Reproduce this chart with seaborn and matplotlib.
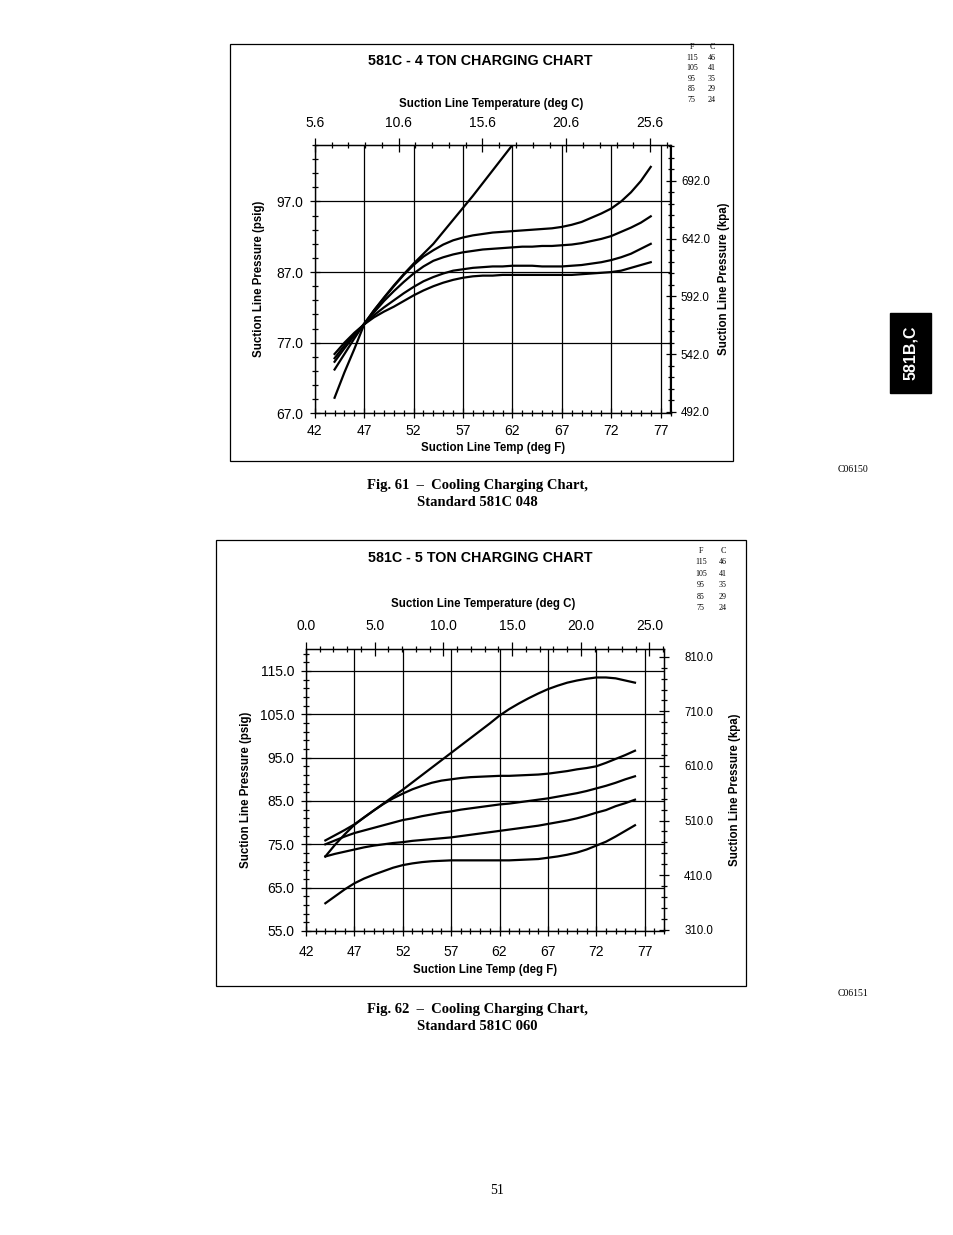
import numpy as np
import pandas as pd
import matplotlib
matplotlib.use("Agg")
import matplotlib.pyplot as plt
import seaborn as sns
from matplotlib.patches import Rectangle
from matplotlib.ticker import FixedLocator

plt.rcParams["font.family"] = ["Liberation Sans", "DejaVu Sans"]

W, H = 954, 1235

# outdoor temperature key (F / C)
outdoor_f = [115, 105, 95, 85, 75]
outdoor_c = [46, 41, 35, 29, 24]

# ---- 581C 048 (4 ton): suction line temp (F) -> suction pressure (psig)
t4_115 = [44, 44.5, 45, 46, 47, 48, 49, 50, 51, 52, 53, 54, 55, 56, 57, 58, 59, 60, 61, 62]
p4_115 = [69.2, 71.0, 72.8, 76.1, 79.6, 81.6, 83.4, 85.1, 86.7, 88.2, 89.6, 91.0, 92.7,
          94.4, 96.1, 97.8, 99.6, 101.4, 103.2, 105.0]
t4 = list(range(44, 77))
p4_105 = [73.2, 75.4, 77.6, 79.7, 81.6, 83.3, 85.0, 86.6, 88.0, 89.2, 90.1, 90.9, 91.5,
          91.9, 92.2, 92.4, 92.6, 92.7, 92.8, 92.9, 93.0, 93.1, 93.2, 93.4, 93.7, 94.1,
          94.7, 95.3, 96.0, 97.0, 98.3, 99.9, 101.9]
p4_95 = [74.3, 76.2, 78.0, 79.7, 81.3, 82.9, 84.3, 85.6, 86.8, 87.8, 88.6, 89.1, 89.5,
         89.8, 90.0, 90.2, 90.3, 90.4, 90.5, 90.6, 90.6, 90.7, 90.7, 90.8, 90.9, 91.1,
         91.4, 91.7, 92.1, 92.7, 93.3, 94.0, 94.9]
p4_85 = [74.8, 76.6, 78.2, 79.6, 80.9, 82.0, 83.0, 84.0, 84.9, 85.7, 86.3, 86.8, 87.2,
         87.4, 87.6, 87.7, 87.8, 87.8, 87.9, 87.9, 87.9, 87.8, 87.8, 87.8, 87.9, 88.0,
         88.2, 88.4, 88.7, 89.1, 89.6, 90.3, 91.0]
p4_75 = [75.4, 77.0, 78.4, 79.6, 80.6, 81.4, 82.1, 82.9, 83.7, 84.4, 85.0, 85.5, 85.9,
         86.2, 86.4, 86.5, 86.5, 86.6, 86.6, 86.6, 86.6, 86.6, 86.6, 86.6, 86.6, 86.7,
         86.8, 86.9, 87.0, 87.2, 87.6, 88.0, 88.4]

# ---- 581C 060 (5 ton)
t5 = list(range(44, 77))
p5_115 = [72.2, 74.9, 77.3, 79.5, 81.2, 82.8, 84.4, 86.0, 87.6, 89.3, 91.0, 92.7, 94.4,
          96.1, 97.8, 99.5, 101.2, 102.9, 104.7, 106.2, 107.5, 108.7, 109.8, 110.8,
          111.6, 112.3, 112.8, 113.2, 113.5, 113.5, 113.3, 112.8, 112.3]
p5_105 = [75.9, 77.1, 78.3, 79.6, 81.2, 82.8, 84.3, 85.6, 86.7, 87.7, 88.5, 89.2, 89.7,
          90.0, 90.3, 90.5, 90.6, 90.7, 90.8, 90.8, 90.9, 91.0, 91.1, 91.3, 91.6, 91.9,
          92.3, 92.6, 93.0, 93.8, 94.7, 95.6, 96.6]
p5_95 = [75.0, 75.9, 76.8, 77.6, 78.2, 78.8, 79.4, 80.0, 80.6, 81.0, 81.5, 81.9, 82.3,
         82.6, 83.0, 83.3, 83.6, 83.9, 84.2, 84.4, 84.7, 85.0, 85.3, 85.6, 86.0, 86.4,
         86.8, 87.3, 87.9, 88.5, 89.2, 90.0, 90.7]
p5_85 = [72.2, 72.8, 73.3, 73.8, 74.3, 74.7, 75.0, 75.3, 75.5, 75.8, 76.0, 76.2, 76.4,
         76.6, 76.9, 77.2, 77.5, 77.8, 78.1, 78.4, 78.7, 79.0, 79.3, 79.7, 80.1, 80.5,
         81.0, 81.6, 82.3, 82.9, 83.8, 84.5, 85.3]
p5_75 = [61.4, 63.0, 64.6, 66.0, 67.1, 68.0, 68.8, 69.6, 70.2, 70.6, 70.9, 71.1, 71.2,
         71.3, 71.3, 71.3, 71.3, 71.3, 71.3, 71.3, 71.4, 71.5, 71.6, 71.9, 72.2, 72.6,
         73.1, 73.8, 74.7, 75.6, 76.8, 78.1, 79.4]

fx_ticks = [42, 47, 52, 57, 62, 67, 72, 77]
y4_ticks = [67, 77, 87, 97]
y5_ticks = [55, 65, 75, 85, 95, 105, 115]
c4_ticks = [5.6, 10.6, 15.6, 20.6, 25.6]
c5_ticks = [0.0, 5.0, 10.0, 15.0, 20.0, 25.0]
kpa4_ticks = [492, 542, 592, 642, 692]
kpa5_ticks = [310, 410, 510, 610, 710, 810]


def long_df(pairs):
    rows = []
    for of, (t, p) in zip(outdoor_f, pairs):
        rows.append(pd.DataFrame({"temp_f": t, "psig": p, "outdoor": of}))
    return pd.concat(rows, ignore_index=True)


df4 = long_df([(t4_115, p4_115), (t4, p4_105), (t4, p4_95), (t4, p4_85), (t4, p4_75)])
df5 = long_df([(t5, p5_115), (t5, p5_105), (t5, p5_95), (t5, p5_85), (t5, p5_75)])

fig = plt.figure(figsize=(W / 100, H / 100), dpi=100)


def px_rect(l, t, r, b):
    return [l / W, 1 - b / H, (r - l) / W, (b - t) / H]


def ftext(x, y, s, **kw):
    fig.text(x / W, 1 - y / H, s, **kw)


def frame(l, t, r, b):
    fig.add_artist(Rectangle((l / W, 1 - b / H), (r - l) / W, (b - t) / H,
                             transform=fig.transFigure, fill=False, lw=0.9, color="black"))


def chart(rect, df, xlim, ylim, yticks, c_scale, c0, c_ticks, c_minor,
          kpa_scale, p0, kpa0, kpa_ticks, kpa_minor, pads, lab):
    ax = fig.add_axes(rect)
    sns.lineplot(data=df, x="temp_f", y="psig", units="outdoor", estimator=None,
                 color="black", linewidth=1.6, ax=ax)
    ax.set_xlim(*xlim)
    ax.set_ylim(*ylim)
    ax.set_xticks(fx_ticks)
    ax.set_xticklabels([str(v) for v in fx_ticks])
    ax.xaxis.set_minor_locator(FixedLocator(np.arange(xlim[0], xlim[1] + 0.1, 1)))
    ax.set_yticks(yticks)
    ax.set_yticklabels([f"{v:.1f}" for v in yticks])
    ax.yaxis.set_minor_locator(FixedLocator(np.arange(ylim[0], ylim[1] + 0.1, 2)))
    ax.grid(True, which="major", color="black", lw=0.9)
    for sp in ax.spines.values():
        sp.set_color("black")
        sp.set_linewidth(1.0)
    ax.tick_params(which="both", direction="inout", color="black", width=0.9, labelsize=10)
    ax.tick_params(which="major", length=7)
    ax.tick_params(which="minor", length=5)
    ax.tick_params(axis="x", pad=pads[0])
    ax.tick_params(axis="y", pad=pads[1])
    ax.set_xlabel("")
    ax.set_ylabel("")
    bold = dict(fontsize=8.3, fontweight="bold", transform=ax.transAxes,
                ha="center", va="center")
    ax.text(0.5, lab[0], "Suction Line Temp (deg F)", **bold)
    ax.text(lab[1], 0.5, "Suction Line Pressure (psig)", rotation=90, **bold)
    ax.text(0.495, lab[2], "Suction Line Temperature (deg C)", **bold)
    ax.text(lab[3], 0.5, "Suction Line Pressure (kpa)", rotation=90, **bold)

    top = ax.secondary_xaxis("top", functions=(lambda f: c0 + (f - xlim[0]) / c_scale,
                                               lambda c: xlim[0] + (c - c0) * c_scale))
    top.set_xticks(c_ticks)
    top.set_xticklabels([f"{v:.1f}" for v in c_ticks])
    top.xaxis.set_minor_locator(FixedLocator(c_minor))
    top.tick_params(which="both", direction="inout", width=0.9, labelsize=10, pad=pads[2])
    top.tick_params(which="major", length=10)
    top.tick_params(which="minor", length=5)

    right = ax.secondary_yaxis("right", functions=(lambda p: kpa0 + (p - p0) * kpa_scale,
                                                   lambda k: p0 + (k - kpa0) / kpa_scale))
    right.set_yticks(kpa_ticks)
    right.set_yticklabels([f"{v:.1f}" for v in kpa_ticks])
    right.yaxis.set_minor_locator(FixedLocator(kpa_minor))
    right.tick_params(which="both", direction="inout", width=0.9, labelsize=8.3, pad=pads[3])
    right.tick_params(which="major", length=7)
    right.tick_params(which="minor", length=5)
    for sp in list(top.spines.values()) + list(right.spines.values()):
        sp.set_color("black")
    return ax


# ---- Fig. 61
frame(230, 44, 733, 461)
chart(px_rect(314.8, 145, 670.5, 413.3), df4, (42, 78), (67, 105), y4_ticks,
      1.697, 5.6, c4_ticks, np.arange(5.6, 27, 1.0),
      6.11, 67.2, 492, kpa4_ticks, np.arange(492, 725, 10),
      pads=(4.5, 4.5, 5.5, 4.0), lab=(-0.128, -0.156, 1.153, 1.150))
ftext(480, 61, "581C - 4 TON CHARGING CHART", fontsize=10.3, fontweight="bold",
      ha="center", va="center")

# ---- Fig. 62
frame(216, 540, 746, 986)
chart(px_rect(306, 649.3, 664, 931), df5, (42, 79), (55, 120), y5_ticks,
      1.42, 0.0, c5_ticks, np.arange(0, 26.5, 1.0),
      7.94, 55.3, 310, kpa5_ticks, np.arange(310, 820, 20),
      pads=(6.5, 5.0, 7.0, 11.0), lab=(-0.138, -0.167, 1.160, 1.198))
ftext(480, 558, "581C - 5 TON CHARGING CHART", fontsize=10.3, fontweight="bold",
      ha="center", va="center")

# small outdoor temperature key
serif = ["Liberation Serif", "DejaVu Serif"]
for (xf, xc, y0, dy) in [(692, 712, 47, 10.6), (701, 723, 551, 11.4)]:
    ftext(xf, y0, "F", family=serif, fontsize=5.8, ha="center", va="center")
    ftext(xc, y0, "C", family=serif, fontsize=5.8, ha="center", va="center")
    for i, (vf, vc) in enumerate(zip(outdoor_f, outdoor_c)):
        ftext(xf, y0 + dy * (i + 1), str(vf), family=serif, fontsize=5.8, ha="center", va="center")
        ftext(xc, y0 + dy * (i + 1), str(vc), family=serif, fontsize=5.8, ha="center", va="center")

# captions
ftext(477, 485, "Fig. 61  \u2013  Cooling Charging Chart,", family=serif, fontsize=10.5,
      fontweight="bold", ha="center", va="center")
ftext(477, 502, "Standard 581C 048", family=serif, fontsize=10.5, fontweight="bold",
      ha="center", va="center")
ftext(853, 470, "C06150", family=serif, fontsize=7, ha="center", va="center")
ftext(477, 1009, "Fig. 62  \u2013  Cooling Charging Chart,", family=serif, fontsize=10.5,
      fontweight="bold", ha="center", va="center")
ftext(477, 1026, "Standard 581C 060", family=serif, fontsize=10.5, fontweight="bold",
      ha="center", va="center")
ftext(853, 993, "C06151", family=serif, fontsize=7, ha="center", va="center")

# side tab
fig.add_artist(Rectangle((890 / W, 1 - 392.7 / H), 40.7 / W, 80 / H,
                         transform=fig.transFigure, color="black"))
ftext(910.5, 352.7, "581B,C", fontsize=11.5, fontweight="bold", color="white",
      rotation=90, ha="center", va="center")

ftext(497, 1190, "51", family=serif, fontsize=10, ha="center", va="center")

fig.savefig("out.png", dpi=100)
